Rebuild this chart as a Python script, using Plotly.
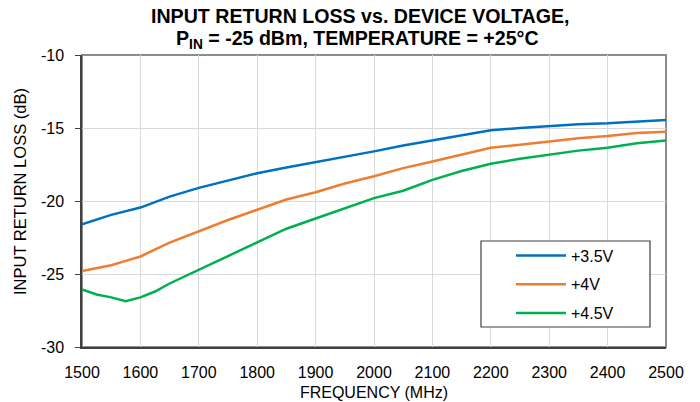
import plotly.graph_objects as go

freq_35 = [1500, 1550, 1600, 1650, 1700, 1750, 1800, 1850, 1900, 1950, 2000, 2050, 2100,
           2150, 2200, 2250, 2300, 2350, 2400, 2450, 2500]
rl_35 = [-21.6, -20.95, -20.45, -19.7, -19.1, -18.6, -18.1, -17.7, -17.35, -16.95, -16.6,
         -16.2, -15.85, -15.45, -15.15, -15.0, -14.87, -14.75, -14.68, -14.55, -14.45]

freq_40 = [1500, 1550, 1575, 1600, 1650, 1700, 1750, 1800, 1850, 1900, 1950, 2000, 2050,
           2100, 2150, 2200, 2250, 2300, 2350, 2400, 2450, 2500]
rl_40 = [-24.8, -24.4, -24.1, -23.8, -22.85, -22.05, -21.3, -20.6, -19.9, -19.4, -18.8,
         -18.3, -17.75, -17.3, -16.8, -16.35, -16.15, -15.9, -15.7, -15.55, -15.35, -15.25]

freq_45 = [1500, 1525, 1550, 1575, 1600, 1625, 1650, 1700, 1750, 1800, 1850, 1900, 1950,
           2000, 2050, 2100, 2150, 2200, 2250, 2300, 2350, 2400, 2450, 2500]
rl_45 = [-26.05, -26.4, -26.6, -26.87, -26.6, -26.2, -25.65, -24.7, -23.75, -22.85, -21.9,
         -21.2, -20.5, -19.8, -19.3, -18.55, -17.95, -17.45, -17.1, -16.8, -16.55, -16.35,
         -16.05, -15.85]

series_names = ["+3.5V", "+4V", "+4.5V"]
colors = ["#0070C0", "#ED7D31", "#00B050"]

x_ticks = [1500, 1600, 1700, 1800, 1900, 2000, 2100, 2200, 2300, 2400, 2500]
y_ticks = [-30, -25, -20, -15, -10]
y_tick_text = ["-30", "-25", "-20", "-15", "-10"]

FONT = "Liberation Sans, Arial, sans-serif"

fig = go.Figure()
for i, (xs, ys) in enumerate([(freq_35, rl_35), (freq_40, rl_40), (freq_45, rl_45)]):
    fig.add_trace(go.Scatter(x=xs, y=ys, mode="lines", name=series_names[i],
                             legendgroup=str(i),
                             line=dict(color=colors[i], width=2.5)))

W, H = 700, 402
OFF = 8  # page body margin
PL, PR, PT, PB = 82, 666, 55, 347  # plot area in window pixels
L, T = PL - OFF, PT - OFF
R = W - (PR - OFF)
B = H - (PB - OFF)
pw, ph = PR - PL, PB - PT

def px2x(p):
    return (p - PL) / pw

def py2y(p):
    return (PB - p) / ph

fig.update_layout(
    width=W, height=H,
    margin=dict(l=L, r=R, t=T, b=B, autoexpand=False),
    paper_bgcolor="white", plot_bgcolor="white",
    font=dict(family=FONT, size=16, color="#000000"),
    showlegend=True,
    legend=dict(x=px2x(511), xanchor="left", y=py2y(238.5), yanchor="top",
                bgcolor="rgba(0,0,0,0)", borderwidth=0,
                font=dict(size=16, family=FONT), tracegroupgap=5,
                traceorder="grouped", itemwidth=50),
    xaxis=dict(range=[1500, 2500], tickvals=x_ticks, showgrid=True,
               gridcolor="#D9D9D9", gridwidth=1, showline=True, automargin=False,
               linecolor="#404040", linewidth=1.5, ticks="", zeroline=False,
               tickfont=dict(size=16), ticklabelstandoff=10,
               title=dict(text="FREQUENCY (MHz)", font=dict(size=16), standoff=7)),
    yaxis=dict(range=[-30, -10], tickvals=y_ticks, ticktext=y_tick_text, showgrid=True,
               automargin=False,
               gridcolor="#D9D9D9", gridwidth=1, showline=True,
               linecolor="#404040", linewidth=1.5, ticks="outside", ticklen=5,
               tickcolor="#404040", zeroline=False,
               tickfont=dict(size=16), ticklabelstandoff=8),
    shapes=[
        dict(type="rect", xref="paper", yref="paper", x0=0, x1=1, y0=0, y1=1,
             line=dict(color="#8C8C8C", width=2), layer="below"),
        dict(type="rect", xref="paper", yref="paper",
             x0=px2x(481), x1=px2x(650), y0=py2y(327), y1=py2y(241),
             line=dict(color="#404040", width=1.2), fillcolor="white", layer="above"),
    ],
    annotations=[
        dict(text="<b>INPUT RETURN LOSS vs. DEVICE VOLTAGE,</b>", xref="paper", yref="paper",
             x=px2x(360), y=py2y(16), xanchor="center", yanchor="middle",
             showarrow=False, font=dict(size=19.6, family=FONT)),
        dict(text="<b>P<sub>IN</sub> = -25 dBm, TEMPERATURE = +25°C</b>", xref="paper", yref="paper",
             x=px2x(357), y=py2y(39), xanchor="center", yanchor="middle",
             showarrow=False, font=dict(size=19.6, family=FONT)),
        dict(text="INPUT RETURN LOSS (dB)", xref="paper", yref="paper",
             x=px2x(20), y=py2y(192), xanchor="center", yanchor="middle",
             textangle=-90, showarrow=False, font=dict(size=16.5, family=FONT)),
    ],
)

fig.write_html("out.html")
